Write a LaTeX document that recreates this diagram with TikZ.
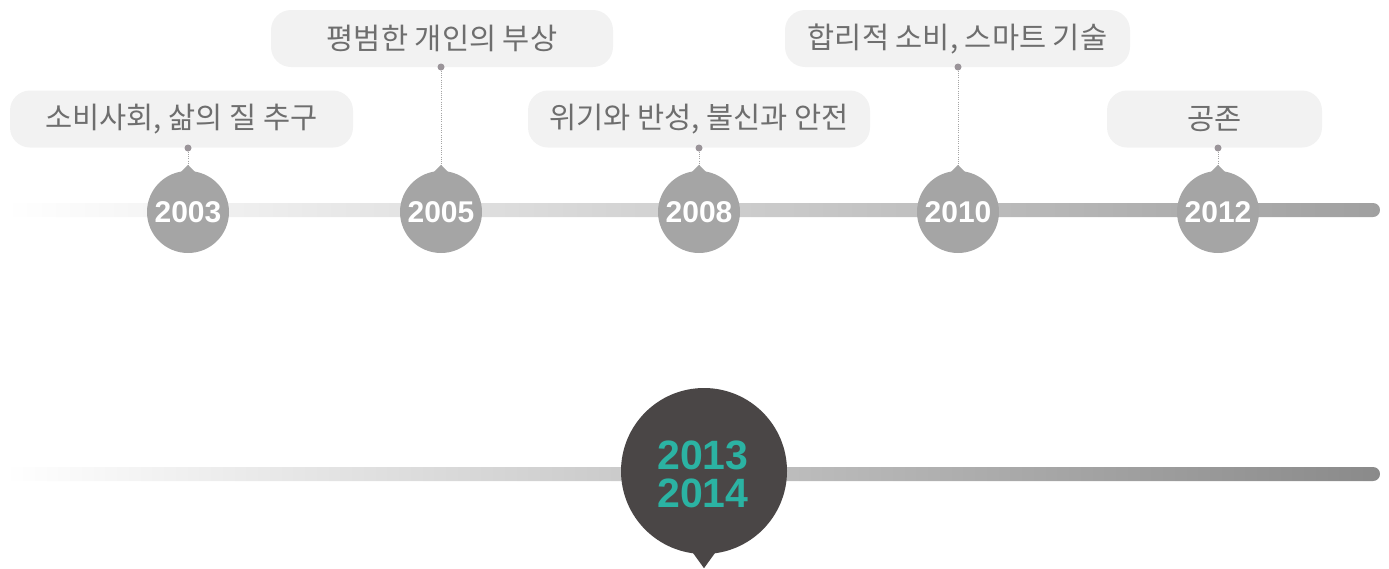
\documentclass[tikz,border=0pt]{standalone}
\usepackage{fontspec}
\setmainfont{Liberation Sans}
\newfontfamily\kr{Noto Sans CJK KR}
\definecolor{boxfill}{HTML}{F2F2F2}
\definecolor{labeltext}{HTML}{6E6E6E}
\definecolor{circgrey}{HTML}{A5A5A5}
\definecolor{dotgrey}{HTML}{9A9499}
\definecolor{bigfill}{HTML}{4A4646}
\definecolor{teal}{HTML}{2BB3A3}
\definecolor{barendA}{HTML}{A0A0A0}
\definecolor{barendB}{HTML}{8A8A8A}
\tikzset{
  labelbox/.style={fill=boxfill, rounded corners=20pt, text=labeltext, inner sep=0pt,
    minimum height=57pt, font=\kr\fontsize{29.5}{29.5}\selectfont},
  yearc/.style={circle, fill=circgrey, text=white, inner sep=0pt, minimum size=82pt,
    font=\bfseries\fontsize{30}{30}\selectfont},
  bigc/.style={circle, fill=bigfill, text=teal, inner sep=0pt, minimum size=166pt,
    align=center, font=\bfseries\fontsize{41}{38}\selectfont},
  pindot/.style={circle, fill=dotgrey, inner sep=0pt, minimum size=7pt},
  conn/.style={draw=circgrey, line width=0.9pt, dash pattern=on 1pt off 1.2pt},
  tipfill/.style={fill=circgrey}
}
\begin{document}
\begin{tikzpicture}[x=1pt,y=-1pt]
\useasboundingbox (0,0) rectangle (1389,568);
% bars
\shade[left color=white, right color=barendA, rounded corners=7pt] (5,203) rectangle (1380,217);
\shade[left color=white, right color=barendB, rounded corners=7pt] (5,467) rectangle (1380,481);
% label boxes
\node[labelbox, minimum width=343pt] (l2003) at (181.5,119) {소비사회, 삶의 질 추구};
\node[labelbox, minimum width=342pt] (l2005) at (442,38.5) {평범한 개인의 부상};
\node[labelbox, minimum width=342pt] (l2008) at (699,119) {위기와 반성, 불신과 안전};
\node[labelbox, minimum width=345pt] (l2010) at (957.5,38.5) {합리적 소비, 스마트 기술};
\node[labelbox, minimum width=215pt] (l2012) at (1214.5,119) {공존};
% year circles
\node[yearc] (c2003) at (188,212) {2003};
\node[yearc] (c2005) at (441,212) {2005};
\node[yearc] (c2008) at (699,212) {2008};
\node[yearc] (c2010) at (958,212) {2010};
\node[yearc] (c2012) at (1218,212) {2012};
% dots
\node[pindot] (d2003) at (188,148) {};
\node[pindot] (d2005) at (441,67) {};
\node[pindot] (d2008) at (699,148) {};
\node[pindot] (d2010) at (958,67) {};
\node[pindot] (d2012) at (1218,148) {};
% connectors and pointers
\foreach \y in {2003,2005,2008,2010,2012}{
  \draw[conn] (d\y.south) -- (c\y.north);
  \fill[tipfill] (c\y.north) +(-9,3) -- +(0,-6) -- +(9,3) -- cycle;
}
% big circle
\node[bigc] (c2013) at (704,471) {};
\node[text=teal, align=center, font=\bfseries\fontsize{41}{38}\selectfont] (t2013) at (703,474) {2013\\2014};
\fill[bigfill] (c2013.south) +(-13,-4) -- +(0,14) -- +(13,-4) -- cycle;
\end{tikzpicture}
\end{document}
